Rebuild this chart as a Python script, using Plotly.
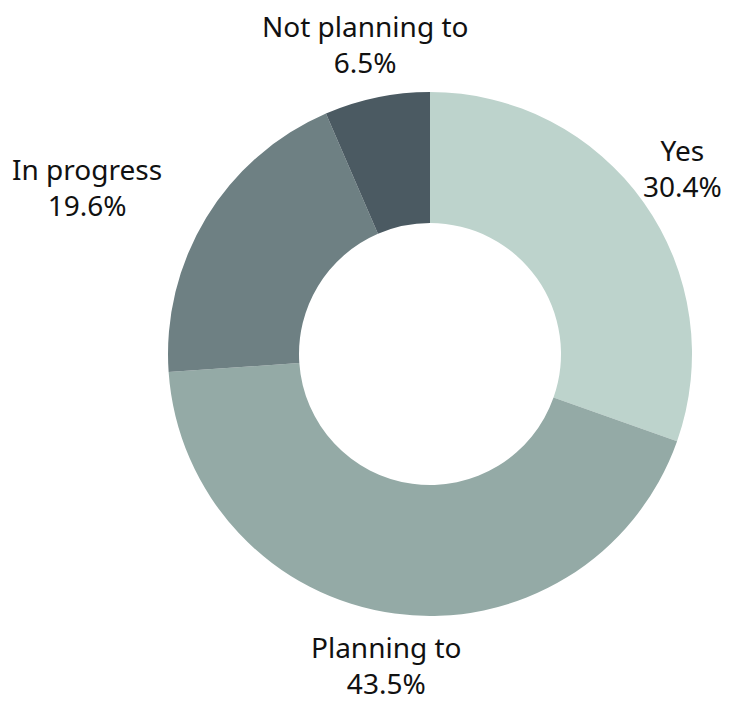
import numpy as np
import plotly.graph_objects as go

# Data
labels = ["Yes", "Planning to", "In progress", "Not planning to"]
shares = [30.4, 43.5, 19.6, 6.5]
colors = ["#BDD3CC", "#94AAA6", "#6E8083", "#4B5A62"]

# figure fits inside the 737x709 window next to the page's 8px body margin
W, H = 721, 693
cx, cy, r = 422, 347, 262          # pie centre (px from left / bottom) and radius
label_r = 322                      # radius at which labels sit
fsize = 28

fig = go.Figure(go.Pie(
    labels=labels,
    values=shares,
    hole=0.5,
    sort=False,
    direction="clockwise",
    rotation=0,
    domain=dict(x=[(cx - r) / W, (cx + r) / W], y=[(cy - r) / H, (cy + r) / H]),
    marker=dict(colors=colors, line=dict(width=0)),
    textinfo="none",
    showlegend=False,
    hoverinfo="skip",
))

# outside labels placed at each slice's mid angle, kept inside the figure
total = sum(shares)
start = 0.0
for lab, val in zip(labels, shares):
    mid = np.deg2rad((start + val / 2) / total * 360)
    start += val
    sx, cyy = np.sin(mid), np.cos(mid)
    pct = f"{val:.1f}%"
    width = max(len(lab) * 0.5, len(pct) * 0.64) * fsize
    half_h = 1.3 * fsize
    x = cx + label_r * sx
    y = cy + label_r * cyy
    if sx < -0.5:
        xanchor = "right"
        x = max(x, 2 + width)
    else:
        xanchor = "center"
        x = min(max(x, 2 + width / 2), W - 2 - width / 2)
    y = min(max(y, half_h), H - half_h)
    fig.add_annotation(
        x=x / W,
        y=y / H,
        xref="paper", yref="paper",
        text=f"{lab}<br>{pct}",
        showarrow=False,
        xanchor=xanchor, yanchor="middle",
        align="center",
        font=dict(family="Noto Sans, sans-serif", size=fsize, color="#111111"),
    )

fig.update_layout(
    width=W,
    height=H,
    margin=dict(l=0, r=0, t=0, b=0),
    paper_bgcolor="white",
    plot_bgcolor="white",
)

fig.write_html("out.html")
